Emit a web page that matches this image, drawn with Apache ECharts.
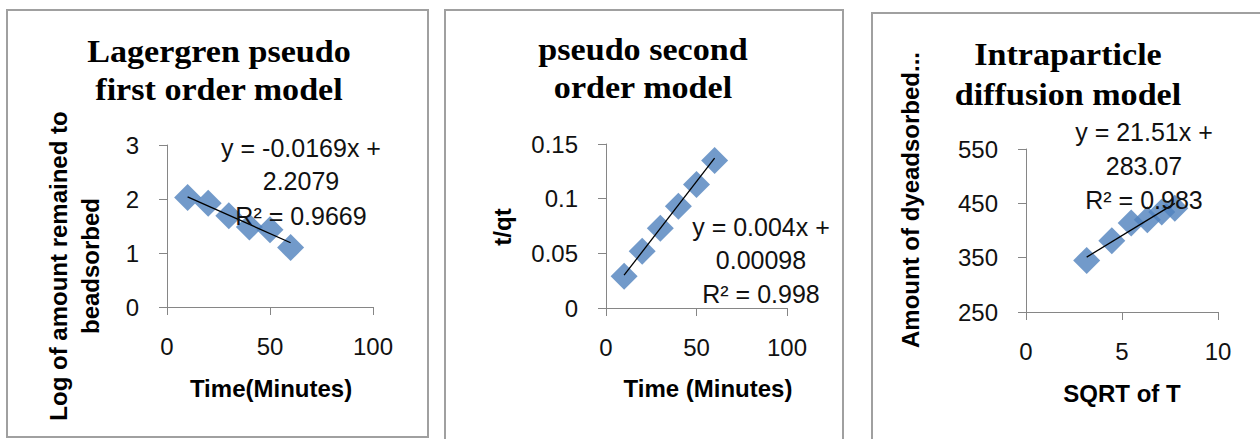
<!DOCTYPE html>
<html><head><meta charset="utf-8">
<script src="https://cdn.jsdelivr.net/npm/echarts@6/dist/echarts.min.js"></script>
<style>html,body{margin:0;padding:0;background:#fff}#c{width:1260px;height:439px}</style>
</head><body><div id="c"></div>
<script>
// ---- data ----
const time = [10, 20, 30, 40, 50, 60];
const logRemain = [2.03, 1.92, 1.69, 1.48, 1.43, 1.10];
const tOverQt = [0.029, 0.052, 0.073, 0.093, 0.113, 0.135];
const sqrtT = [3.16, 4.47, 5.48, 6.32, 7.07, 7.75];
const qtAds = [345, 381, 414, 420, 434, 441];
// trend-line end points (as drawn)
const trend1X = [10, 60], trend1Y = [2.04, 1.19];
const trend2X = [10, 60], trend2Y = [0.030, 0.137];
const trend3X = [3.16, 7.75], trend3Y = [351, 450];
// text
const titles = [["Lagergren pseudo", "first order model"], ["pseudo second", "order model"], ["Intraparticle", "diffusion model"]];
const xNames = ["Time(Minutes)", "Time (Minutes)", "SQRT of T"];
const yNames = [["Log of amount remained to", "beadsorbed"], ["t/qt"], ["Amount of dyeadsorbed..."]];
const equations = [["y = -0.0169x +", "2.2079", "R² = 0.9669"], ["y = 0.004x +", "0.00098", "R² = 0.998"], ["y = 21.51x +", "283.07", "R² = 0.983"]];
// axis ranges
const xRanges = [[0, 100, 50], [0, 100, 50], [0, 10, 5]];
const yRanges = [[0, 3, 1], [0, 0.15, 0.05], [250, 550, 100]];

const chart = echarts.init(document.getElementById('c'), null, {renderer: 'svg'});
const grids = [
  {left: 167, top: 145, width: 206, height: 162},
  {left: 606, top: 144, width: 181, height: 164},
  {left: 1026, top: 149, width: 192, height: 163}
];
const axisCommon = {
  axisLine: {show: true, onZero: false, lineStyle: {color: '#868686', width: 1}},
  axisTick: {show: true, length: 8, lineStyle: {color: '#868686'}},
  splitLine: {show: false},
  axisLabel: {color: '#111', fontFamily: 'Liberation Sans', fontSize: 24, margin: 28}
};
const xAxes = xRanges.map((r, i) => Object.assign({type: 'value', gridIndex: i, min: r[0], max: r[1], interval: r[2]}, JSON.parse(JSON.stringify(axisCommon)), {axisLabel: Object.assign({}, axisCommon.axisLabel, {margin: 27})}));
const yAxes = yRanges.map((r, i) => Object.assign({type: 'value', gridIndex: i, min: r[0], max: r[1], interval: r[2]}, JSON.parse(JSON.stringify(axisCommon))));

const pts = [[time, logRemain], [time, tOverQt], [sqrtT, qtAds]];
const trends = [[trend1X, trend1Y], [trend2X, trend2Y], [trend3X, trend3Y]];
const series = [];
pts.forEach((p, i) => {
  series.push({type: 'scatter', xAxisIndex: i, yAxisIndex: i, symbol: 'diamond', symbolSize: 27,
    itemStyle: {color: '#4F81BD'}, data: p[0].map((x, k) => [x, p[1][k]]), z: 2});
  series.push({type: 'line', xAxisIndex: i, yAxisIndex: i, symbol: 'none', lineStyle: {color: '#000', width: 1.3},
    data: trends[i][0].map((x, k) => [x, trends[i][1][k]]), z: 3});
});

const g = [];
// panel borders
[[7, 10, 421, 427], [445, 10, 398, 440], [872, 13, 400, 440]].forEach(b => g.push({type: 'rect', shape: {x: b[0], y: b[1], width: b[2], height: b[3]}, style: {fill: null, stroke: '#a0a0a0', lineWidth: 2}, z: 0}));
const tfont = 'bold 31px "Liberation Serif"';
const titlePos = [[219, 52, 90], [643, 50, 88], [1068, 55, 95]];
titles.forEach((t, i) => t.forEach((s, k) => g.push({type: 'text', x: titlePos[i][0], y: titlePos[i][1 + k], z: 100, scaleX: 1.1,
  style: {text: s, font: tfont, fill: '#000', textAlign: 'center', textVerticalAlign: 'middle'}})));
const nfont = 'bold 24px "Liberation Sans"';
const xNamePos = [[271, 388], [708, 388], [1122, 393]];
xNames.forEach((s, i) => g.push({type: 'text', x: xNamePos[i][0], y: xNamePos[i][1], z: 100,
  style: {text: s, font: nfont, fill: '#000', textAlign: 'center', textVerticalAlign: 'middle'}}));
const yNamePos = [[[58, 266], [90, 266]], [[502, 227]], [[910, 200]]];
yNames.forEach((arr, i) => arr.forEach((s, k) => g.push({type: 'text', x: yNamePos[i][k][0], y: yNamePos[i][k][1], rotation: Math.PI / 2, z: 100,
  style: {text: s, font: nfont, fill: '#000', textAlign: 'center', textVerticalAlign: 'middle'}})));
const efont = '25px "Liberation Sans"';
const eqPos = [[301, [148, 181, 216]], [761, [227, 260, 294]], [1144, [132, 166, 200]]];
equations.forEach((arr, i) => arr.forEach((s, k) => g.push({type: 'text', x: eqPos[i][0], y: eqPos[i][1][k], z: 100,
  style: {text: s, font: efont, fill: '#111', textAlign: 'center', textVerticalAlign: 'middle'}})));

chart.setOption({
  animation: false,
  backgroundColor: '#fff',
  grid: grids,
  xAxis: xAxes,
  yAxis: yAxes,
  series: series,
  graphic: g
});
</script></body></html>
